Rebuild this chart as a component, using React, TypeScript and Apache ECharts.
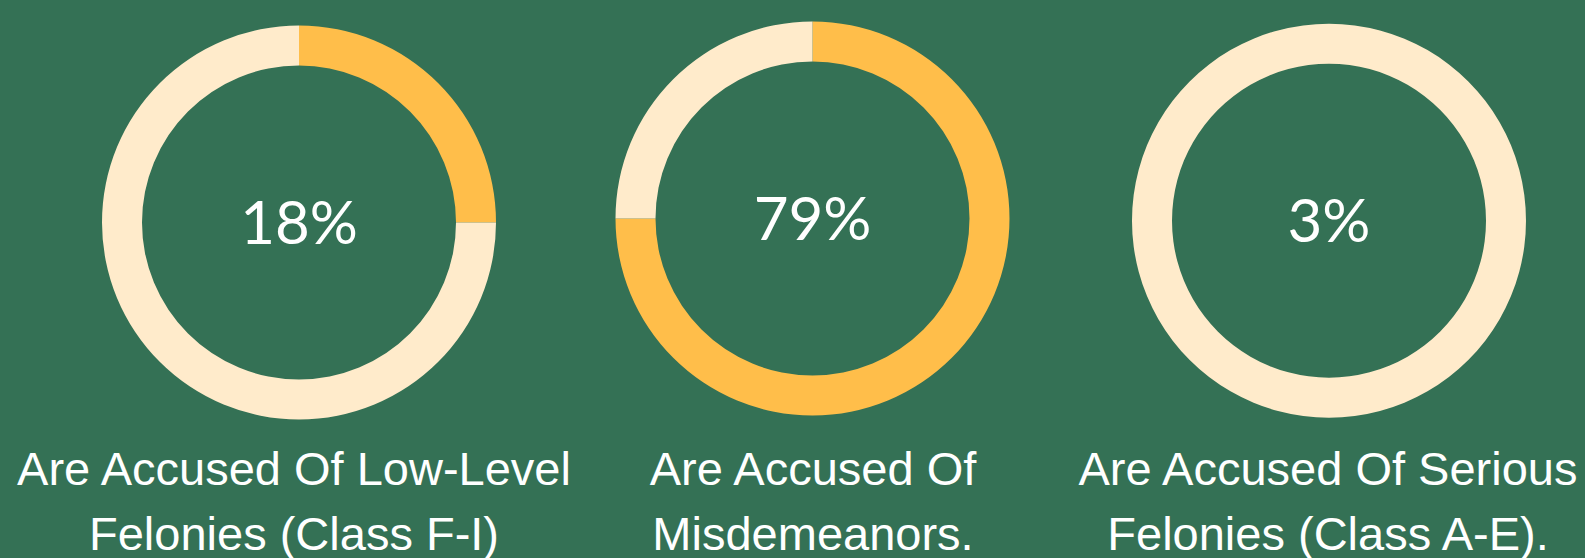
import React, { useEffect, useRef } from "react";
import * as echarts from "echarts";

// Text shown in each donut centre (percent)
const centerValues = [18, 79, 3];
// Highlighted share of each ring as drawn in the picture (percent of the circle)
const ringShares = [25, 75, 0];
const captions = [
  "Are Accused Of Low-Level\nFelonies (Class F-I)",
  "Are Accused Of\nMisdemeanors.",
  "Are Accused Of Serious\nFelonies (Class A-E).",
];

const BG = "#347155";
const ORANGE = "#FFBE4A";
const CREAM = "#FFEBCB";

const centers: [number, number][] = [
  [299, 222.5],
  [812.5, 218.5],
  [1329, 220.7],
];
const captionX = [294, 813, 1328];

export default function App() {
  const ref = useRef<HTMLDivElement>(null);
  useEffect(() => {
    document.body.style.margin = "0";
    const chart = echarts.init(ref.current!, undefined, { renderer: "svg" });
    const series = ringShares.map((share, i) => ({
      type: "pie" as const,
      center: centers[i],
      radius: [157, 197],
      startAngle: 90,
      clockwise: true,
      silent: true,
      label: { show: false },
      labelLine: { show: false },
      emphasis: { disabled: true },
      itemStyle: { borderWidth: 0 },
      data: [
        { value: share, name: "accused", itemStyle: { color: ORANGE } },
        { value: 100 - share, name: "rest", itemStyle: { color: CREAM } },
      ],
    }));
    const graphic: any[] = [];
    centerValues.forEach((v, i) => {
      graphic.push({
        type: "text",
        x: centers[i][0],
        y: centers[i][1] - 1.5,
        style: {
          text: `${v}%`,
          fill: "#ffffff",
          font: "400 60px Lato",
          textAlign: "center",
          textVerticalAlign: "middle",
        },
      });
    });
    captions.forEach((c, i) => {
      graphic.push({
        type: "text",
        x: captionX[i],
        y: 436,
        style: {
          text: c,
          fill: "#ffffff",
          fontFamily: "Liberation Sans",
          fontSize: 47,
          lineHeight: 65,
          textAlign: "center",
          textVerticalAlign: "top",
        },
      });
    });
    chart.setOption({
      animation: false,
      backgroundColor: BG,
      series,
      graphic,
    });
    return () => chart.dispose();
  }, []);
  return <div ref={ref} style={{ width: 1585, height: 558 }} />;
}
